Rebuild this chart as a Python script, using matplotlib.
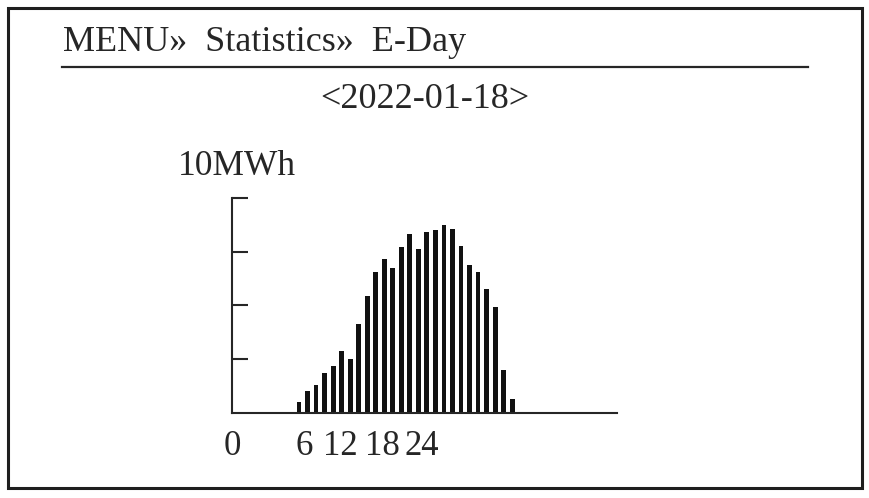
import numpy as np
import matplotlib.pyplot as plt

# hourly energy bars, in units of the y ticks
values = [0.20, 0.40, 0.51, 0.73, 0.87, 1.14, 1.00, 1.65, 2.17, 2.62,
          2.87, 2.70, 3.08, 3.33, 3.04, 3.36, 3.40, 3.50, 3.43, 3.11,
          2.75, 2.62, 2.31, 1.96, 0.79, 0.26]
x_labels = ["0", "6", "12", "18", "24"]
title = "MENU\u00bb  Statistics\u00bb  E-Day"
date_text = "<2022-01-18>"
unit_text = "10MWh"

W, H = 870, 498
ink = "#262626"
plt.rcParams['font.family'] = ['Liberation Serif', 'DejaVu Serif']

fig = plt.figure(figsize=(W / 100, H / 100), dpi=100)
fig.patch.set_facecolor("white")

# overlay in pixel coordinates for the screen frame and texts
bg = fig.add_axes([0, 0, 1, 1])
bg.set_xlim(0, W)
bg.set_ylim(H, 0)
bg.axis("off")
bg.add_patch(plt.Rectangle((8, 8), 854, 480, fill=False, lw=2.2, ec="#1e1e1e"))
bg.plot([62, 808], [66.5, 66.5], color=ink, lw=1.6)
bg.text(63, 51, title, fontsize=26, color=ink, ha="left", va="baseline")
bg.text(425, 108, date_text, fontsize=26, color=ink, ha="center", va="baseline")
bg.text(237, 175, unit_text, fontsize=25.5, color=ink, ha="center", va="baseline")

# bar chart
x0, x1, yb, yt = 232, 617, 412.5, 198
ax = fig.add_axes([x0 / W, (H - yb) / H, (x1 - x0) / W, (yb - yt) / H])
ax.patch.set_alpha(0)
xs = np.arange(len(values))
ax.bar(xs, values, width=0.57, color="#111111")
ax.set_xlim(-7.86, 37.3)
ax.set_ylim(0, 4)
for s in ["top", "right"]:
    ax.spines[s].set_visible(False)
for s in ["left", "bottom"]:
    ax.spines[s].set_linewidth(1.5)
    ax.spines[s].set_color(ink)
ax.set_yticks([1, 2, 3, 4])
ax.tick_params(axis="y", direction="in", length=11.5, width=1.5,
               color=ink, labelleft=False)
ax.set_xticks([-7.86, 0.59, 4.81, 9.74, 14.44], x_labels)
ax.tick_params(axis="x", length=0, pad=12.5, labelsize=25, labelcolor=ink)

fig.savefig("out.png", dpi=100)
